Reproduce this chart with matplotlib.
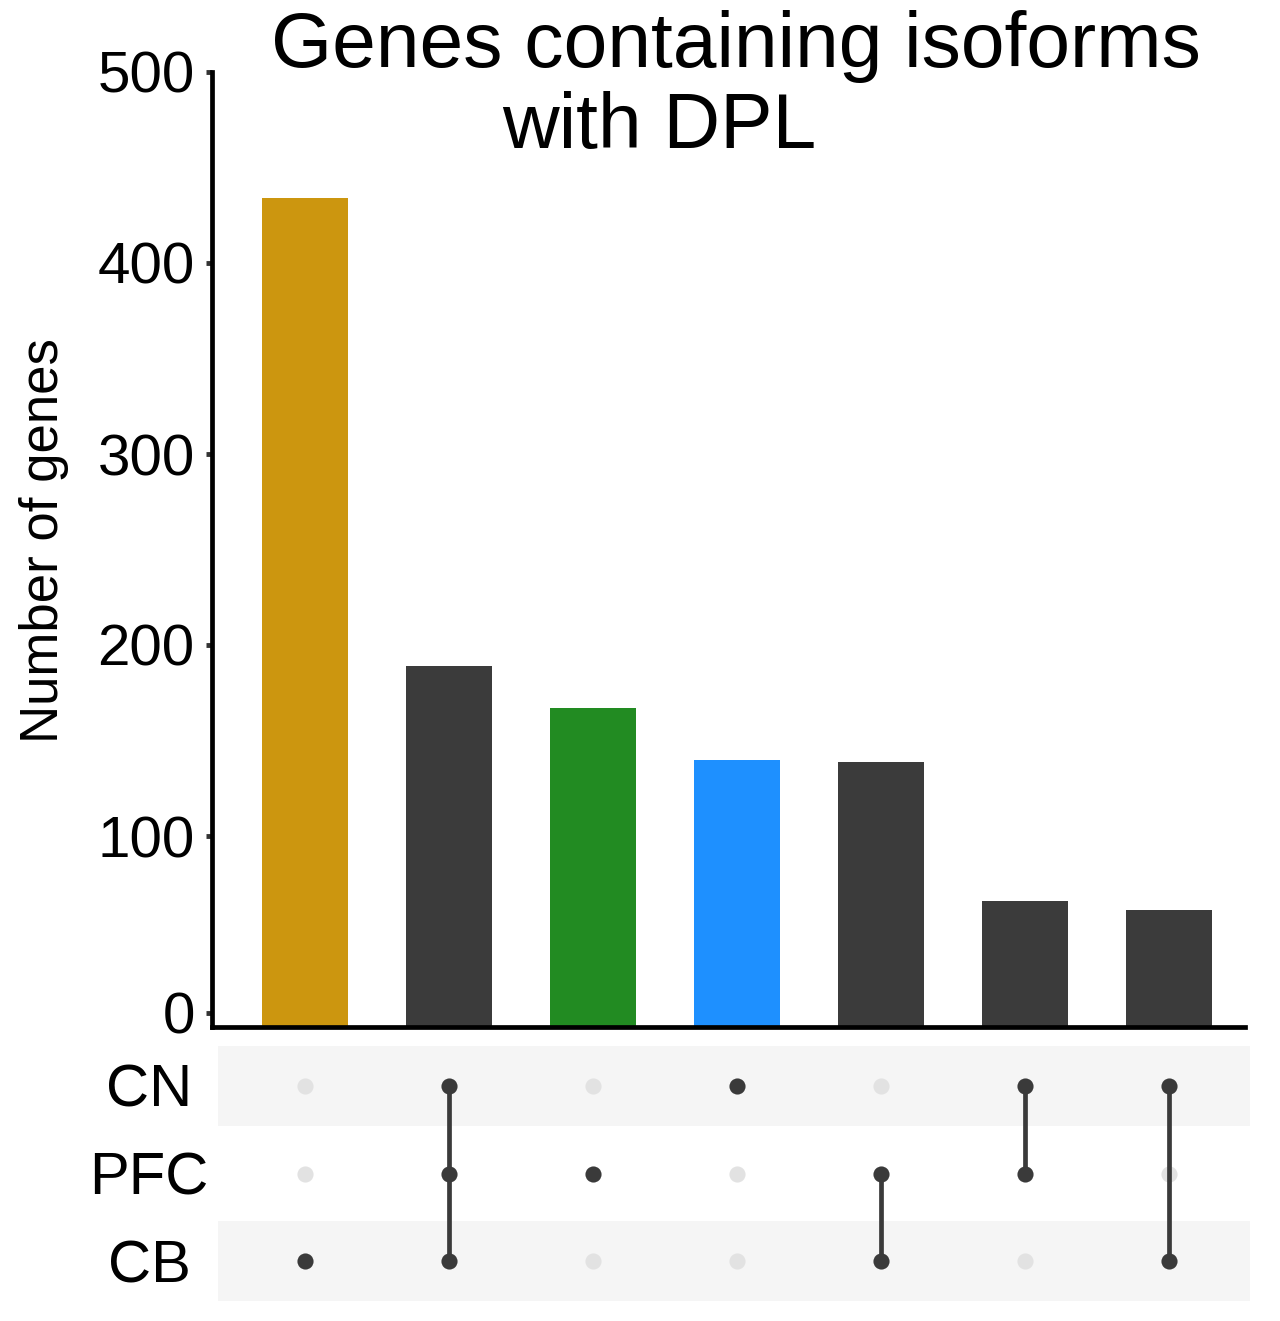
import matplotlib
matplotlib.use("Agg")
import matplotlib.pyplot as plt
from matplotlib.transforms import ScaledTranslation

plt.rcParams['font.family'] = ['Liberation Sans', 'DejaVu Sans']

# intersection sizes, in the order shown
counts = [434, 189, 167, 140, 139, 66, 61]
bar_colors = ['#CC960F', '#3B3B3B', '#228B22', '#1E90FF', '#3B3B3B', '#3B3B3B', '#3B3B3B']
sets = ['CN', 'PFC', 'CB']   # top to bottom
membership = [
    ['CB'],
    ['CN', 'PFC', 'CB'],
    ['PFC'],
    ['CN'],
    ['PFC', 'CB'],
    ['CN', 'PFC'],
    ['CN', 'CB'],
]
yticks = [0, 100, 200, 300, 400, 500]

W, H = 1280, 1321
fig = plt.figure(figsize=(W / 100, H / 100), dpi=100)

# bar panel
ax = fig.add_axes([212 / W, 1 - 1027 / H, (1245 - 212) / W, (1027 - 72) / H])
x = list(range(len(counts)))
ax.bar(x, counts, width=0.6, color=bar_colors)
ax.set_xlim(-0.646, 6.53)
ax.set_ylim(0, 500)
ax.set_yticks(yticks)
ax.set_yticklabels([str(t) for t in yticks], fontsize=42)
ax.set_xticks([])
for s in ['top', 'right']:
    ax.spines[s].set_visible(False)
for s in ['left', 'bottom']:
    ax.spines[s].set_linewidth(3.4)
    ax.spines[s].set_color('black')
ax.tick_params(axis='y', length=4.5, width=3.5, color='#333333', pad=8)

# the zero tick sits a little above the baseline in the original
up = ScaledTranslation(0, 14 / 100, fig.dpi_scale_trans)
t0 = ax.yaxis.get_major_ticks()[0]
t0.label1.set_transform(t0.label1.get_transform() + up)
t0.tick1line.set_transform(t0.tick1line.get_transform() + up)

fig.text(44 / W, 1 - 541 / H, 'Number of genes', rotation=90, ha='center', va='center', fontsize=38)

fig.text(736 / W, 1 - 67 / H, 'Genes containing isoforms', ha='center', va='baseline', fontsize=56.5)
fig.text(659 / W, 1 - 148 / H, 'with DPL', ha='center', va='baseline', fontsize=56.5)

# matrix panel
mx = fig.add_axes([218 / W, 1 - 1305 / H, (1250 - 218) / W, (1305 - 1042) / H])
mx.set_xlim(-0.604, 6.5625)
mx.set_ylim(-0.5, 2.5)
rows = {name: len(sets) - 1 - i for i, name in enumerate(sets)}
for name, r in rows.items():
    if name != 'PFC':
        mx.axhspan(r - 0.46, r + 0.46, color='#F5F5F5', zorder=0, lw=0)
for col, members in enumerate(membership):
    for name, r in rows.items():
        c = '#3A3A3A' if name in members else '#E2E2E2'
        mx.scatter(col, r, s=135, color=c, zorder=2, lw=0)
    ys = [rows[m] for m in members]
    if len(ys) > 1:
        mx.plot([col, col], [min(ys), max(ys)], color='#3A3A3A', lw=3.4, zorder=3)
mx.set_xticks([])
mx.set_yticks([])
mx.set_xlim(-0.604, 6.5625)
for s in mx.spines.values():
    s.set_visible(False)
for name, r in rows.items():
    mx.text(-0.604 - 69 / 144, r - 0.24, name, ha='center', va='baseline', fontsize=43)

fig.savefig('out.png', dpi=100)
